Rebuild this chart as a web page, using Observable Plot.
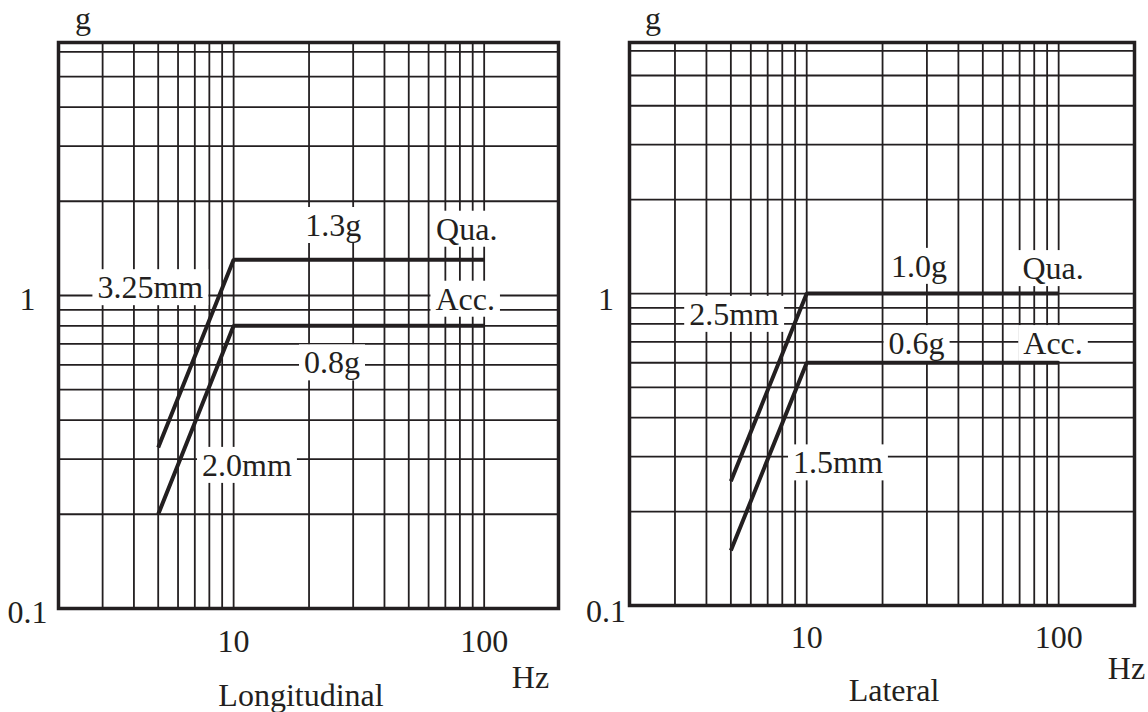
<!DOCTYPE html>
<html>
<head>
<meta charset="utf-8">
<script src="https://cdn.jsdelivr.net/npm/d3@7"></script>
<script src="https://cdn.jsdelivr.net/npm/@observablehq/plot@0.6"></script>
<style>
  html, body { margin: 0; padding: 0; background: #fff; }
  #wrap { position: relative; width: 1148px; height: 712px; overflow: hidden; background: #fff; }
  .panel { position: absolute; top: 0; }
</style>
</head>
<body>
<div id="wrap"></div>
<script>
// ---------- data ----------
const gridHz = [3, 4, 5, 6, 7, 8, 9, 10, 20, 30, 40, 50, 60, 70, 80, 90, 100];
const gridG = [0.2, 0.3, 0.4, 0.5, 0.6, 0.7, 0.8, 0.9, 1, 2, 3, 4, 5, 6];
const tickHz = [10, 100];
const tickG = [0.1, 1];

const panelTitles = ["Longitudinal", "Lateral"];

// Longitudinal curves
const longQuaHz = [5, 10, 100];
const longQuaG = [0.327, 1.3, 1.3];
const longAccHz = [5, 10, 100];
const longAccG = [0.2, 0.8, 0.8];
// Longitudinal annotations
const longLabelText = ["1.3g", "Qua.", "3.25mm", "Acc.", "0.8g", "2.0mm"];
const longLabelHz = [25, 85.2, 4.65, 84, 24.7, 11.3];
const longLabelG = [1.67, 1.625, 1.057, 0.971, 0.608, 0.286];

// Lateral curves
const latQuaHz = [5, 10, 100];
const latQuaG = [0.25, 1.0, 1.0];
const latAccHz = [5, 10, 100];
const latAccG = [0.15, 0.6, 0.6];
// Lateral annotations
const latLabelText = ["1.0g", "Qua.", "2.5mm", "0.6g", "Acc.", "1.5mm"];
const latLabelHz = [27.9, 95, 5.15, 27.3, 95, 13.3];
const latLabelG = [1.22, 1.2, 0.856, 0.69, 0.69, 0.286];

// ---------- helpers ----------
const INK = "#231f20";
const FONT = "'Liberation Serif', 'Times New Roman', Times, serif";
const FS = 32;

const zip = (xs, ys) => xs.map((x, i) => ({hz: x, g: ys[i]}));
const zipLabels = (ts, xs, ys) => ts.map((t, i) => ({t, hz: xs[i], g: ys[i]}));

function panel(cfg) {
  const txt = {fill: INK, fontSize: FS, fontFamily: FONT, lineAnchor: "middle"};
  const svg = Plot.plot({
    width: 574,
    height: 712,
    marginLeft: cfg.ml,
    marginRight: cfg.mr,
    marginTop: cfg.mt,
    marginBottom: cfg.mb,
    style: {fontFamily: FONT, fontSize: FS + "px", color: INK, background: "transparent", overflow: "visible"},
    x: {type: "log", domain: cfg.xDomain, axis: null},
    y: {type: "log", domain: cfg.yDomain, axis: null},
    marks: [
      Plot.ruleX(gridHz, {stroke: INK, strokeWidth: 1.8}),
      Plot.ruleY(gridG, {stroke: INK, strokeWidth: 1.8}),
      Plot.text(cfg.labels, {x: "hz", y: "g", text: "t", ...txt, ariaDescription: "labelbox"}),
      Plot.line(cfg.qua, {x: "hz", y: "g", stroke: INK, strokeWidth: 4, strokeLinejoin: "miter", strokeLinecap: "butt"}),
      Plot.line(cfg.acc, {x: "hz", y: "g", stroke: INK, strokeWidth: 4, strokeLinejoin: "miter", strokeLinecap: "butt"}),
      Plot.frame({stroke: INK, strokeWidth: 3.5}),
      // y tick labels
      Plot.text(tickG, {y: d => d, text: d => String(d), frameAnchor: "left", dx: cfg.yTickDx,
        dy: cfg.yTickDy, textAnchor: "middle", ...txt}),
      // x tick labels
      Plot.text(tickHz, {x: d => d, text: d => String(d), frameAnchor: "bottom", dy: cfg.xTickDy, ...txt}),
      // unit labels
      Plot.text(["g"], {frameAnchor: "top-left", dx: cfg.gDx, dy: cfg.gDy, textAnchor: "middle", ...txt}),
      Plot.text(["Hz"], {frameAnchor: "bottom-right", dx: cfg.hzDx, dy: cfg.hzDy, textAnchor: "middle", ...txt}),
      Plot.text([cfg.title], {frameAnchor: "bottom", dx: cfg.titleDx, dy: cfg.titleDy, textAnchor: "middle", ...txt})
    ]
  });
  return svg;
}

function addLabelBoxes(svg) {
  const groups = svg.querySelectorAll('g[aria-description="labelbox"]');
  groups.forEach(g => {
    const texts = Array.from(g.querySelectorAll("text"));
    texts.forEach(t => {
      const b = t.getBBox();
      const r = document.createElementNS("http://www.w3.org/2000/svg", "rect");
      const padX = 5, padY = 0;
      r.setAttribute("x", b.x - padX);
      r.setAttribute("y", b.y - padY);
      r.setAttribute("width", b.width + 2 * padX);
      r.setAttribute("height", b.height + 2 * padY);
      r.setAttribute("fill", "#fff");
      const tr = t.getAttribute("transform");
      if (tr) r.setAttribute("transform", tr);
      t.parentNode.insertBefore(r, t);
    });
  });
}

const wrap = document.getElementById("wrap");

const left = panel({
  title: panelTitles[0],
  ml: 58, mr: 16, mt: 42, mb: 104,
  xDomain: [2, 198], yDomain: [0.1, 6.43],
  qua: zip(longQuaHz, longQuaG),
  acc: zip(longAccHz, longAccG),
  labels: zipLabels(longLabelText, longLabelHz, longLabelG),
  yTickDx: -31, yTickDy: 4,
  xTickDy: 33,
  gDx: 24.5, gDy: -24,
  hzDx: -28, hzDy: 69,
  titleDx: -7.5, titleDy: 87
});
left.classList.add("panel");
left.style.left = "0px";
left.style.position = "absolute";
wrap.appendChild(left);

const right = panel({
  title: panelTitles[1],
  ml: 55, mr: 14, mt: 42, mb: 107,
  xDomain: [1.98, 200], yDomain: [0.1, 6.38],
  qua: zip(latQuaHz, latQuaG),
  acc: zip(latAccHz, latAccG),
  labels: zipLabels(latLabelText, latLabelHz, latLabelG),
  yTickDx: -23.5, yTickDy: 6,
  xTickDy: 32.5,
  gDx: 23.5, gDy: -24,
  hzDx: -8, hzDy: 63,
  titleDx: 12, titleDy: 85
});
right.classList.add("panel");
right.style.left = "574px";
right.style.position = "absolute";
wrap.appendChild(right);

addLabelBoxes(left);
addLabelBoxes(right);
</script>
</body>
</html>
